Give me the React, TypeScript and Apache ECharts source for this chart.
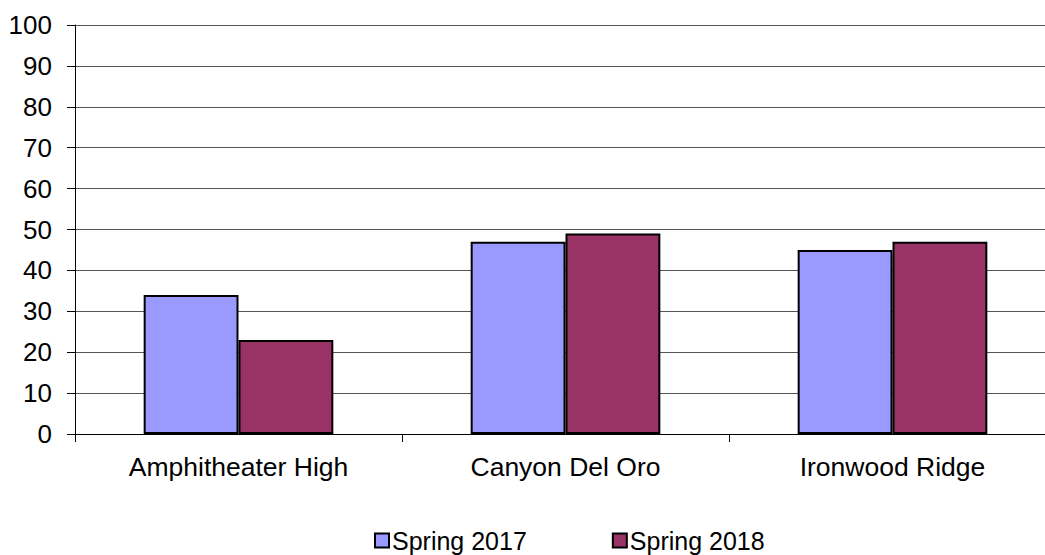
import React, { useEffect, useRef } from "react";
import * as echarts from "echarts";

const categories = ["Amphitheater High", "Canyon Del Oro", "Ironwood Ridge"];
const seriesNames = ["Spring 2017", "Spring 2018"];
const spring2017 = [34, 47, 45];
const spring2018 = [23, 49, 47];
const colors = ["#9999FF", "#993366"];

export default function App() {
  const ref = useRef<HTMLDivElement>(null);
  useEffect(() => {
    if (!ref.current) return;
    const chart = echarts.init(ref.current, null, { renderer: "svg" });
    const font = "'Liberation Sans', Arial, sans-serif";
    chart.setOption({
      animation: false,
      textStyle: { fontFamily: font },
      grid: { left: 75, right: 4, top: 25, bottom: 121, containLabel: false },
      legend: {
        left: 369,
        top: 523,
        itemWidth: 14,
        itemHeight: 14,
        itemGap: 85,
        icon: "rect",
        textStyle: {
          fontSize: 25,
          color: "#000",
          fontFamily: font,
          padding: [0, 0, 0, -2],
        },
        data: seriesNames,
      },
      xAxis: {
        type: "category",
        data: categories,
        axisLine: { show: true, lineStyle: { color: "#000", width: 1 } },
        axisTick: { show: true, length: 8, alignWithLabel: false, lineStyle: { color: "#000" } },
        axisLabel: { fontSize: 26.5, color: "#000", margin: 19, fontFamily: font },
        splitLine: { show: false },
      },
      yAxis: {
        type: "value",
        min: 0,
        max: 100,
        interval: 10,
        axisLine: { show: true, lineStyle: { color: "#000", width: 1 } },
        axisTick: { show: true, length: 8, lineStyle: { color: "#000" } },
        axisLabel: { fontSize: 26, color: "#000", margin: 23, fontFamily: font },
        splitLine: { show: true, lineStyle: { color: "#555", width: 1 } },
      },
      series: [
        {
          name: seriesNames[0],
          type: "bar",
          data: spring2017,
          barGap: "0%",
          barCategoryGap: "42%",
          itemStyle: { color: colors[0], borderColor: "#000", borderWidth: 2 },
        },
        {
          name: seriesNames[1],
          type: "bar",
          data: spring2018,
          barGap: "0%",
          barCategoryGap: "42%",
          itemStyle: { color: colors[1], borderColor: "#000", borderWidth: 2 },
        },
      ],
    });
    return () => chart.dispose();
  }, []);
  return (
    <div
      style={{
        position: "absolute",
        left: 0,
        top: 0,
        width: 1045,
        height: 555,
        overflow: "hidden",
        background: "#fff",
      }}
    >
      <div ref={ref} style={{ width: 1060, height: 555 }} />
    </div>
  );
}
